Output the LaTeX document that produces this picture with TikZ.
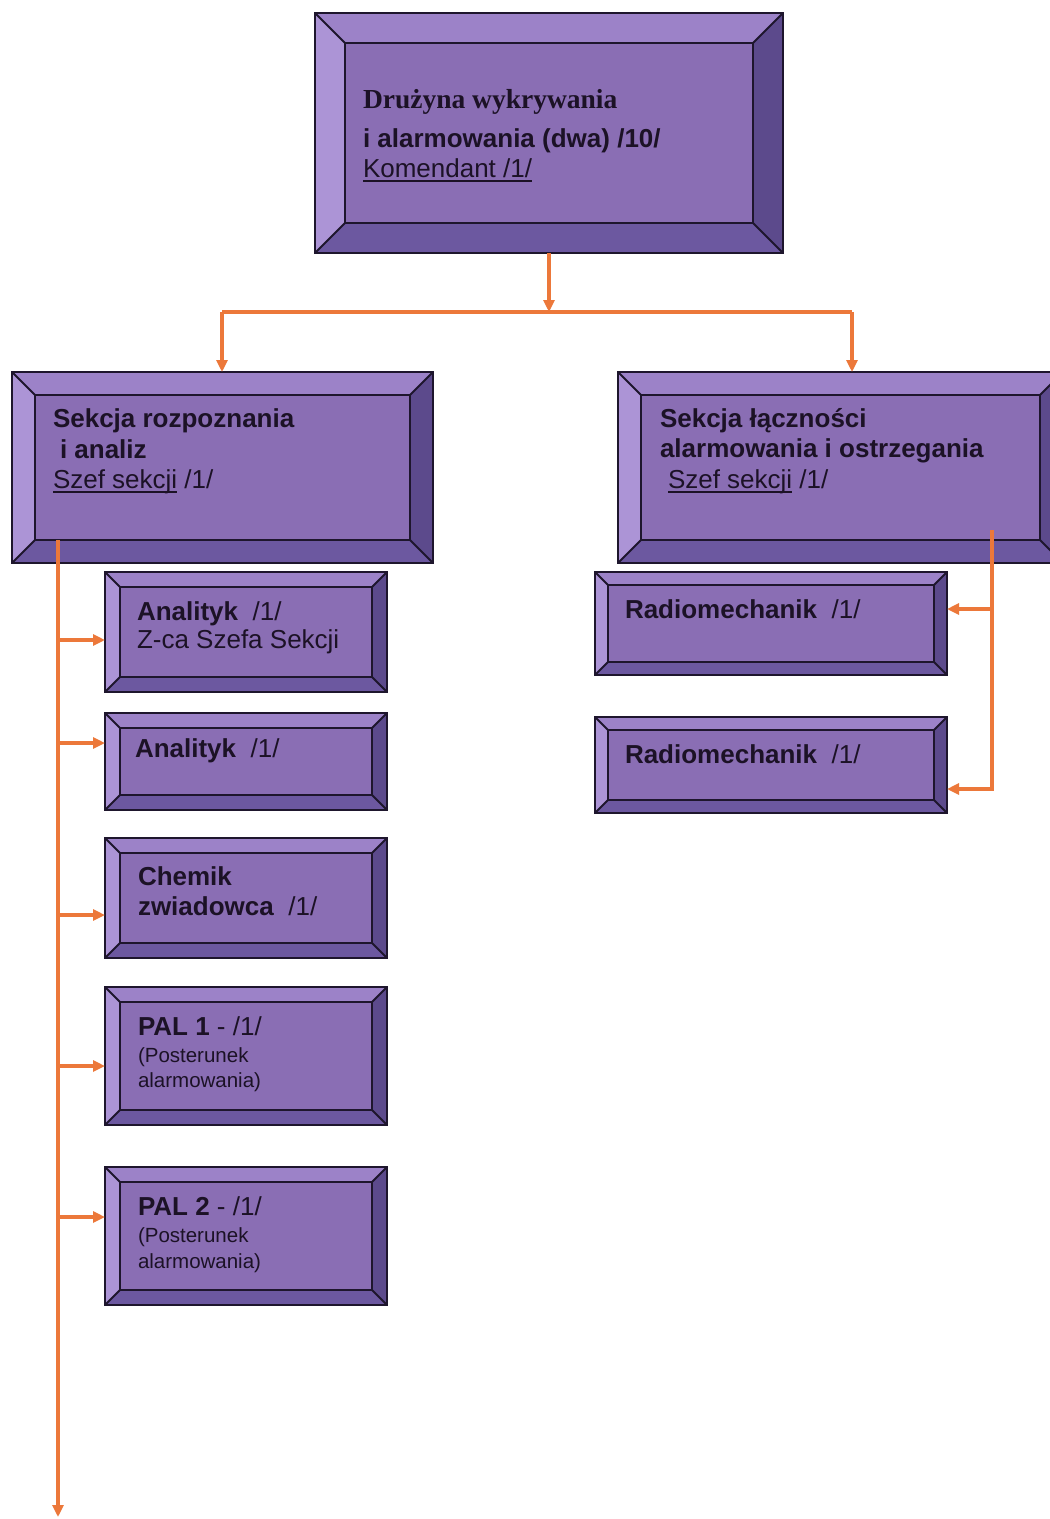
\documentclass[tikz,border=0pt]{standalone}
\usepackage{fontspec}
\setmainfont{Liberation Sans}
\newfontfamily\serifface{Liberation Serif}
\usetikzlibrary{calc,fit,arrows.meta}
\definecolor{face}{RGB}{138,110,180}
\definecolor{btop}{RGB}{156,130,200}
\definecolor{bleft}{RGB}{172,148,214}
\definecolor{bright}{RGB}{92,74,140}
\definecolor{bbot}{RGB}{108,88,160}
\definecolor{edge}{RGB}{30,22,45}
\definecolor{ink}{RGB}{28,18,38}
\definecolor{conn}{RGB}{236,120,58}

\newcommand\ulx[1]{\setbox0\hbox{#1}\rlap{\rule[-4.5pt]{\wd0}{1.8pt}}\box0}

\newcommand\bevbox[6]{%
 \node[fit={(#2,#3) (#4,#5)}, inner sep=0pt, outer sep=0pt] (#1) {};
 \coordinate (#1-a) at ($(#1.north west)+(#6,#6)$);
 \coordinate (#1-b) at ($(#1.north east)+(-#6,#6)$);
 \coordinate (#1-c) at ($(#1.south east)+(-#6,-#6)$);
 \coordinate (#1-d) at ($(#1.south west)+(#6,-#6)$);
 \fill[face] (#1-a) rectangle (#1-c);
 \fill[btop] (#1.north west) -- (#1.north east) -- (#1-b) -- (#1-a) -- cycle;
 \fill[bright] (#1.north east) -- (#1.south east) -- (#1-c) -- (#1-b) -- cycle;
 \fill[bbot] (#1.south east) -- (#1.south west) -- (#1-d) -- (#1-c) -- cycle;
 \fill[bleft] (#1.south west) -- (#1.north west) -- (#1-a) -- (#1-d) -- cycle;
 \draw[edgeline] (#1.north west) rectangle (#1.south east);
 \draw[edgeline] (#1-a) rectangle (#1-c);
 \draw[edgeline] (#1.north west) -- (#1-a) (#1.north east) -- (#1-b)
   (#1.south east) -- (#1-c) (#1.south west) -- (#1-d);
}

\begin{document}
\begin{tikzpicture}[x=1pt,y=-1pt,
  edgeline/.style={draw=edge, line width=2pt, line join=miter},
  wire/.style={draw=conn, line width=4pt},
  arr/.style={wire, -{Triangle[length=12pt,width=11pt]}},
  lab/.style={anchor=base west, inner sep=0pt, outer sep=0pt, text=ink,
              font=\fontsize{26}{30}\selectfont},
  labb/.style={lab, font=\fontsize{26}{30}\selectfont\bfseries},
  labs/.style={lab, font=\fontsize{20.5}{24}\selectfont},
  labser/.style={lab, font=\fontsize{27.5}{30}\selectfont\serifface\bfseries}]
\clip (0,0) rectangle (1050,1519);
\fill[white] (0,0) rectangle (1050,1519);

\bevbox{top}{315}{13}{783}{253}{30}
\bevbox{lsec}{12}{372}{433}{563}{23}
\bevbox{rsec}{618}{372}{1063}{563}{23}
\bevbox{an1}{105}{572}{387}{692}{15}
\bevbox{an2}{105}{713}{387}{810}{15}
\bevbox{chem}{105}{838}{387}{958}{15}
\bevbox{pal1}{105}{987}{387}{1125}{15}
\bevbox{pal2}{105}{1167}{387}{1305}{15}
\bevbox{rm1}{595}{572}{947}{675}{13}
\bevbox{rm2}{595}{717}{947}{813}{13}

% texts
\node[labser] (t1) at (363,108) {Drużyna wykrywania};
\node[labb] (t2) at (363,147) {i alarmowania (dwa) /10/};
\node[lab] (t3) at (363,177) {\ulx{Komendant /1/}};

\node[labb] (l1) at (53,427) {Sekcja rozpoznania};
\node[labb] (l2) at (60,458) {i analiz};
\node[lab] (l3) at (53,488) {\ulx{Szef sekcji}\ /1/};

\node[labb] (r1) at (660,427) {Sekcja łączności};
\node[labb] (r2) at (660,457) {alarmowania i ostrzegania};
\node[lab] (r3) at (668,488) {\ulx{Szef sekcji}\ /1/};

\node[lab] (a1) at (137,620) {\textbf{Analityk}\ \ /1/};
\node[lab] (a2) at (137,648) {Z-ca Szefa Sekcji};
\node[lab] (b1) at (135,757) {\textbf{Analityk}\ \ /1/};
\node[labb] (c1) at (138,885) {Chemik};
\node[lab] (c2) at (138,915) {\textbf{zwiadowca}\ \ /1/};
\node[lab] (p1) at (138,1035) {\textbf{PAL 1} - /1/};
\node[labs] (p2) at (138,1062) {(Posterunek};
\node[labs] (p3) at (138,1087) {alarmowania)};
\node[lab] (q1) at (138,1215) {\textbf{PAL 2} - /1/};
\node[labs] (q2) at (138,1242) {(Posterunek};
\node[labs] (q3) at (138,1268) {alarmowania)};
\node[lab] (m1) at (625,618) {\textbf{Radiomechanik}\ \ /1/};
\node[lab] (m2) at (625,763) {\textbf{Radiomechanik}\ \ /1/};

% connectors
\coordinate (j) at (549,312);
\coordinate (lb) at (222,312);
\coordinate (rb) at (852,312);
\draw[wire] (lb) -- (rb);
\draw[arr] (top.south) -- (j);
\draw[arr] (lb) -- (lb |- lsec.north);
\draw[arr] (rb) -- (rb |- rsec.north);

\coordinate (lt) at (58,540);
\coordinate (le) at (58,1517);
\draw[arr] (lt) -- (le);
\foreach \n/\yy in {an1/640, an2/743, chem/915, pal1/1066, pal2/1217}
  \draw[arr] (lt |- 0,\yy) -- (\n.west |- 0,\yy);

\coordinate (rt) at (992,530);
\coordinate (rc) at (992,789);
\draw[arr] (rt) -- (rc) -- (rm2.east |- rc);
\draw[arr] (rt |- 0,609) -- (rm1.east |- 0,609);
\end{tikzpicture}
\end{document}
